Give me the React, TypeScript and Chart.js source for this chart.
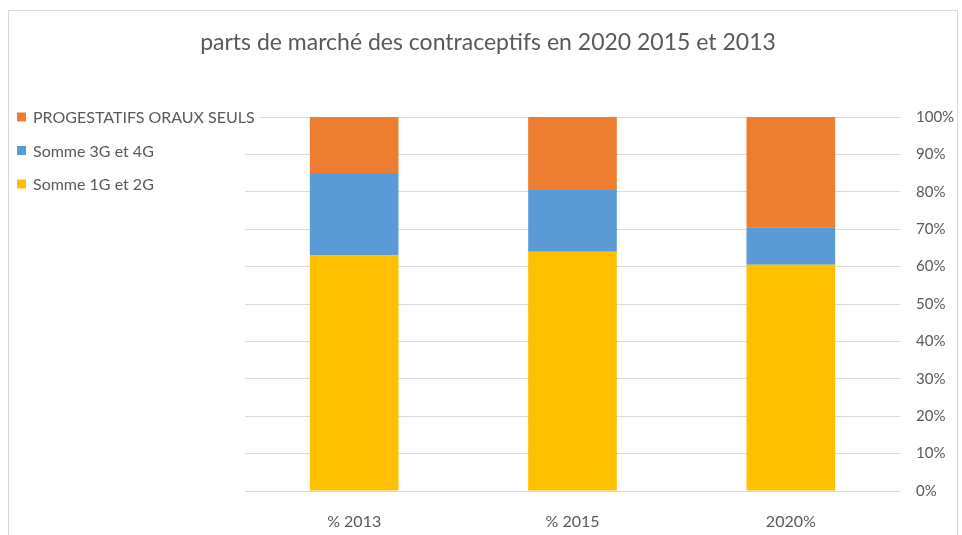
import React, { useEffect, useRef } from "react";
import { Chart, registerables } from "chart.js";

Chart.register(...registerables);

const chartTitle = "parts de marché des contraceptifs en 2020 2015 et 2013";
const categories = ["% 2013", "% 2015", "2020%"];
const somme1G2G = [63, 64, 60.5];
const somme3G4G = [22, 16.5, 10];
const progestatifs = [15, 19.5, 29.5];
const seriesNames = ["Somme 1G et 2G", "Somme 3G et 4G", "PROGESTATIFS ORAUX SEULS"];
const seriesColors = ["#FFC000", "#5B9BD5", "#ED7D31"];
const yMin = 0;
const yMax = 100;
const yStep = 10;

const FONT = "Lato, 'Open Sans', sans-serif";
const TEXT = "#595959";

const decorPlugin = {
  id: "decor",
  beforeDraw(chart: any) {
    const ctx = chart.ctx;
    ctx.save();
    ctx.fillStyle = "#ffffff";
    ctx.fillRect(0, 0, chart.width, chart.height);
    ctx.strokeStyle = "#d9d9d9";
    ctx.lineWidth = 1;
    ctx.strokeRect(8.5, 10.5, 949, 600);
    ctx.restore();
  },
  afterDraw(chart: any) {
    const ctx = chart.ctx;
    ctx.save();
    ctx.fillStyle = TEXT;
    ctx.font = `23px ${FONT}`;
    ctx.textAlign = "center";
    ctx.textBaseline = "middle";
    ctx.fillText(chartTitle, 488, 43);

    ctx.font = `16px ${FONT}`;
    ctx.textAlign = "left";
    const ds = chart.data.datasets;
    const order = ds.map((_: any, i: number) => i).reverse();
    order.forEach((di: number, row: number) => {
      const y = 117 + row * 33.5;
      const label = ds[di].label;
      const w = ctx.measureText(label).width;
      ctx.fillStyle = "#ffffff";
      ctx.fillRect(14, y - 10, w + 24, 20);
      ctx.fillStyle = ds[di].backgroundColor;
      ctx.fillRect(17, y - 4.5, 9, 9);
      ctx.fillStyle = TEXT;
      ctx.fillText(label, 33, y + 1);
    });
    ctx.restore();
  },
};

export default function App() {
  const ref = useRef<HTMLCanvasElement | null>(null);
  useEffect(() => {
    document.body.style.margin = "0";
    if (!ref.current) return;
    const values = [somme1G2G, somme3G4G, progestatifs];
    const chart = new Chart(ref.current, {
      type: "bar",
      data: {
        labels: categories,
        datasets: values.map((v, i) => ({
          label: seriesNames[i],
          data: v,
          backgroundColor: seriesColors[i],
          borderWidth: 0,
          categoryPercentage: 1,
          barPercentage: 0.406,
        })),
      },
      options: {
        animation: false,
        responsive: false,
        devicePixelRatio: 1,
        layout: { padding: { left: 245, top: 117, right: 0, bottom: 0 } },
        plugins: { legend: { display: false }, title: { display: false }, tooltip: { enabled: false } },
        scales: {
          x: {
            stacked: true,
            grid: { display: false },
            border: { display: false },
            ticks: { color: TEXT, font: { family: FONT, size: 16 }, padding: 13 },
            afterFit(scale: any) {
              scale.height = 44;
            },
          },
          y: {
            stacked: true,
            position: "right",
            min: yMin,
            max: yMax,
            grid: { color: "#d9d9d9", lineWidth: 1, drawTicks: false },
            border: { display: false },
            ticks: {
              stepSize: yStep,
              color: TEXT,
              font: { family: FONT, size: 15 },
              padding: 16,
              callback: (v: any) => `${v}%`,
            },
            afterFit(scale: any) {
              scale.width = 62;
            },
          },
        },
      },
      plugins: [decorPlugin],
    });
    return () => chart.destroy();
  }, []);
  return (
    <div style={{ width: 962, height: 535, overflow: "hidden" }}>
      <canvas ref={ref} width={962} height={535} style={{ display: "block" }} />
    </div>
  );
}
